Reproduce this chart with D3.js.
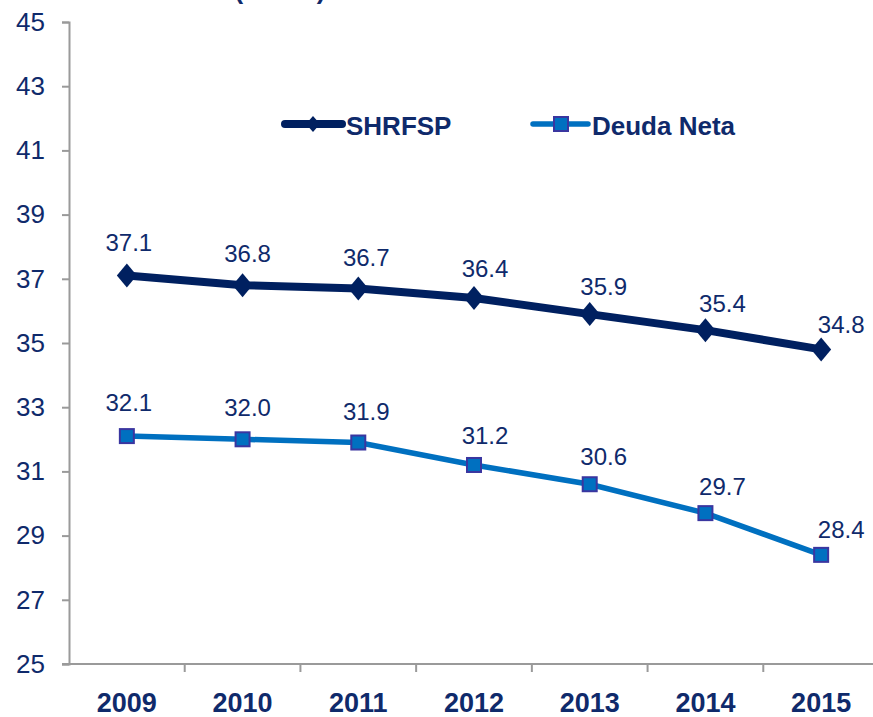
<!DOCTYPE html>
<html>
<head>
<meta charset="utf-8">
<script src="https://cdn.jsdelivr.net/npm/d3@7"></script>
<style>
  body { margin: 0; background: #fff; }
  svg { display: block; font-family: "Liberation Sans", Arial, sans-serif; }
</style>
</head>
<body>
<svg id="chart" width="873" height="717"></svg>
<script>
// chart values
var years = ["2009", "2010", "2011", "2012", "2013", "2014", "2015"];
var shrfsp = [37.1, 36.8, 36.7, 36.4, 35.9, 35.4, 34.8];
var deudaNeta = [32.1, 32.0, 31.9, 31.2, 30.6, 29.7, 28.4];
var yTicks = [25, 27, 29, 31, 33, 35, 37, 39, 41, 43, 45];
var seriesNames = ["SHRFSP", "Deuda Neta"];
var titleText = "(% PIB)";

var navy = "#002060", blue = "#0070c0", textCol = "#0f2a6b", axisCol = "#9a9a9a";

var svg = d3.select("#chart");

var x = d3.scaleBand().domain(years).range([69, 879]);
var y = d3.scaleLinear().domain([25, 45]).range([664, 22]);

// title, cut off at the top
svg.append("text")
  .attr("x", 280).attr("y", -1)
  .attr("text-anchor", "middle")
  .style("font-size", "26px").style("font-weight", "bold")
  .style("fill", textCol)
  .text(titleText);

// y axis
var yAxis = svg.append("g").attr("transform", "translate(69,0)")
  .call(d3.axisLeft(y).tickValues(yTicks).tickSize(7).tickPadding(17).tickFormat(d3.format("d")));
yAxis.select(".domain").attr("stroke", axisCol).attr("stroke-width", 2);
yAxis.selectAll(".tick line").attr("stroke", axisCol).attr("stroke-width", 2);
yAxis.selectAll(".tick text")
  .style("font-size", "26px").style("font-family", "Liberation Sans, Arial, sans-serif")
  .attr("fill", textCol);

// x axis
var xAxis = svg.append("g").attr("transform", "translate(0,664)")
  .call(d3.axisBottom(x).tickSize(0).tickPadding(0));
xAxis.select(".domain").remove();
xAxis.append("line")
  .attr("x1", 62).attr("x2", 873).attr("y1", 0).attr("y2", 0)
  .attr("stroke", axisCol).attr("stroke-width", 2);
xAxis.selectAll(".sep").data(years.slice(1)).enter().append("line")
  .attr("x1", function (d) { return x(d); })
  .attr("x2", function (d) { return x(d); })
  .attr("y1", 0).attr("y2", 8)
  .attr("stroke", axisCol).attr("stroke-width", 2);
xAxis.selectAll(".tick text")
  .attr("dy", 0).attr("y", 48)
  .style("font-size", "27px").style("font-weight", "bold")
  .style("font-family", "Liberation Sans, Arial, sans-serif")
  .attr("fill", textCol);

function cx(i) { return x(years[i]) + x.bandwidth() / 2; }

var line = d3.line()
  .x(function (d, i) { return cx(i); })
  .y(function (d) { return y(d); });

var diamond = "M0,-12L10,0L0,12L-10,0Z";

// SHRFSP
svg.append("path").datum(shrfsp)
  .attr("d", line).attr("fill", "none")
  .attr("stroke", navy).attr("stroke-width", 8);
svg.selectAll(".dia").data(shrfsp).enter().append("path")
  .attr("d", diamond)
  .attr("transform", function (d, i) { return "translate(" + cx(i) + "," + y(d) + ")"; })
  .attr("fill", navy);

// Deuda Neta
svg.append("path").datum(deudaNeta)
  .attr("d", line).attr("fill", "none")
  .attr("stroke", blue).attr("stroke-width", 5.5);
svg.selectAll(".sq").data(deudaNeta).enter().append("rect")
  .attr("x", function (d, i) { return cx(i) - 7; })
  .attr("y", function (d) { return y(d) - 7; })
  .attr("width", 14).attr("height", 14)
  .attr("fill", blue).attr("stroke", "#3a36a0").attr("stroke-width", 2);

// data labels
function labels(vals) {
  svg.selectAll(null).data(vals).enter().append("text")
    .attr("x", function (d, i) { return cx(i) + 2 + i * 3; })
    .attr("y", function (d, i) { return y(d) - 25 + i * 1.4; })
    .attr("text-anchor", "middle")
    .style("font-size", "24px")
    .style("fill", textCol)
    .text(function (d) { return d3.format(".1f")(d); });
}
labels(shrfsp);
labels(deudaNeta);

// legend
var lg = svg.append("g");
lg.append("line").attr("x1", 285).attr("x2", 342).attr("y1", 124).attr("y2", 124)
  .attr("stroke", navy).attr("stroke-width", 8).attr("stroke-linecap", "round");
lg.append("path").attr("d", "M0,-8L7,0L0,8L-7,0Z")
  .attr("transform", "translate(313,124)").attr("fill", navy);
lg.append("text").attr("x", 346).attr("y", 135)
  .style("font-size", "26px").style("font-weight", "bold").style("fill", textCol)
  .text(seriesNames[0]);

lg.append("line").attr("x1", 533).attr("x2", 588).attr("y1", 124).attr("y2", 124)
  .attr("stroke", blue).attr("stroke-width", 5.5).attr("stroke-linecap", "round");
lg.append("rect").attr("x", 554).attr("y", 117).attr("width", 14).attr("height", 14)
  .attr("fill", blue).attr("stroke", "#3a36a0").attr("stroke-width", 2);
lg.append("text").attr("x", 592).attr("y", 135)
  .style("font-size", "26px").style("font-weight", "bold").style("fill", textCol)
  .text(seriesNames[1]);
</script>
</body>
</html>
